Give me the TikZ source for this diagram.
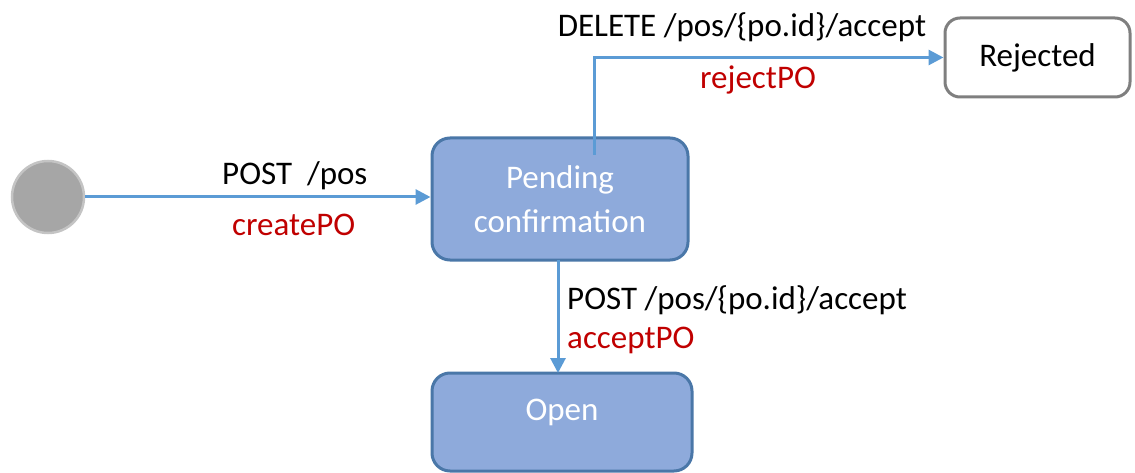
\documentclass[tikz,border=0pt]{standalone}
\usepackage{fontspec}
\setmainfont{Carlito}
\usetikzlibrary{arrows.meta}
\definecolor{arrowblue}{HTML}{5B9BD5}
\definecolor{boxfill}{HTML}{8EAADB}
\definecolor{boxborder}{HTML}{4A77A8}
\definecolor{labred}{HTML}{C00000}
\definecolor{startfill}{HTML}{A6A6A6}
\definecolor{startborder}{HTML}{C4C4C4}
\definecolor{rejborder}{HTML}{7F7F7F}
\tikzset{
  x=1pt, y=-1pt,
  every node/.style={font=\fontsize{33}{37}\selectfont, inner sep=0pt},
  statebox/.style={draw=boxborder, fill=boxfill, line width=3pt, rounded corners=18pt, text=white, align=center},
  endbox/.style={draw=rejborder, fill=white, line width=3pt, rounded corners=15pt, text=black},
  conn/.style={draw=arrowblue, line width=3pt, -{Triangle[length=15pt,width=15pt]}},
  blk/.style={text=black},
  red/.style={text=labred}
}
\begin{document}
\begin{tikzpicture}
\useasboundingbox (0,0) rectangle (1135,473);
% start
\node[circle, draw=startborder, fill=startfill, line width=2.5pt, minimum size=72pt] (start) at (48,197) {};
% states
\node[statebox, minimum width=256pt, minimum height=122pt] (pend) at (560,199) {Pending\\[7pt]confirmation};
\node[endbox, minimum width=185pt, minimum height=79pt] (rej) at (1037.5,57.5) {Rejected};
\node[statebox, minimum width=260pt, minimum height=98pt] (open) at (562,422) {};
\node[text=white] (opentxt) at (562,412) {Open};
% connectors
\draw[conn] (start.east) -- (start.east -| pend.west);
\coordinate (rs) at (594,155);
\draw[conn] (rs) |- (rej.west);
\coordinate (as) at (558,260);
\coordinate (ae) at (558,373);
\draw[conn] (as) -- (ae);
% labels
\node[blk, anchor=west] (l1) at (222,176) {POST\ \ /pos};
\node[red, anchor=west] (l2) at (232,225) {createPO};
\node[blk] (l3) at (742,27) {DELETE /pos/\{po.id\}/accept};
\node[red] (l4) at (758,80) {rejectPO};
\node[blk, anchor=west] (l5) at (567,300) {POST /pos/\{po.id\}/accept};
\node[red, anchor=west] (l6) at (567,340) {acceptPO};
\end{tikzpicture}
\end{document}
